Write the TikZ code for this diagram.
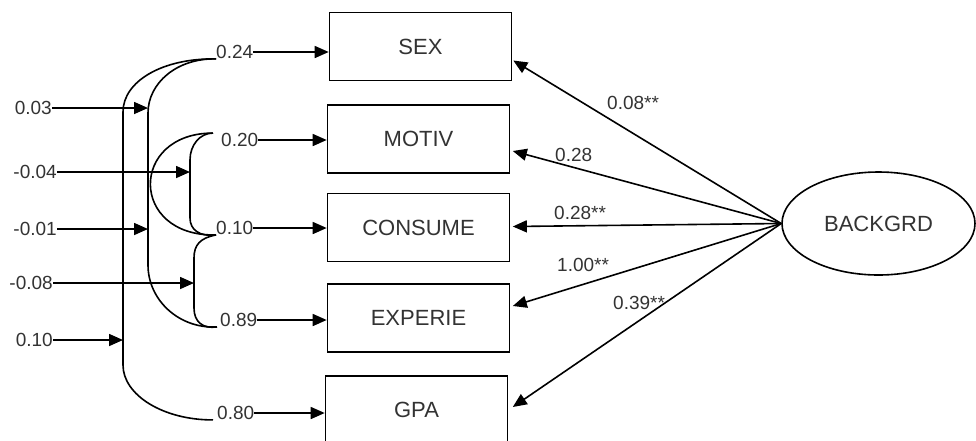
\documentclass[tikz,border=0pt]{standalone}
\usepackage{fontspec}
\setmainfont{Liberation Sans}
\usetikzlibrary{arrows.meta,shapes.geometric}
\begin{document}
\begin{tikzpicture}[x=1pt,y=-1pt,
  var/.style={draw, line width=1.6pt, minimum width=182pt, minimum height=68pt, inner sep=0pt, font=\fontsize{22}{26}\selectfont, text=black!80},
  num/.style={inner sep=0pt, font=\fontsize{19}{22}\selectfont, text=black!80},
  arr/.style={line width=1.6pt, -{Triangle[length=14pt,width=12pt]}},
  cov/.style={line width=1.6pt}]
\useasboundingbox (0,0) rectangle (976,440);
\node[var] (sex) at (420.5,46.5){SEX};
\node[var] (motiv) at (418.5,139){MOTIV};
\node[var] (consume) at (418.5,227.5){CONSUME};
\node[var] (experie) at (418.5,318){EXPERIE};
\node[var] (gpa) at (416.5,410){GPA};
\node[var, ellipse, minimum width=193pt, minimum height=103pt] (backgrd) at (878.5,223.5){BACKGRD};
\node[num, anchor=west] (e24) at (216,52){0.24};
\node[num, anchor=west] (e20) at (221,140){0.20};
\node[num, anchor=west] (e10) at (216,228){0.10};
\node[num, anchor=west] (e89) at (220,320){0.89};
\node[num, anchor=west] (e80) at (217,413){0.80};
\draw[arr](e24.east) -- (e24.east -| sex.west);
\draw[arr](e20.east) -- (e20.east -| motiv.west);
\draw[arr](e10.east) -- (e10.east -| consume.west);
\draw[arr](e89.east) -- (e89.east -| experie.west);
\draw[arr](e80.east) -- (e80.east -| gpa.west);
\draw[cov](e24.south west) .. controls (163,58) and (123,81) .. (123,112) -- (123,365) .. controls (123,395) and (163,420) .. ([xshift=-4pt]e80.south west);
\draw[cov](e24.south west) .. controls (177,58) and (148,83) .. (148,113) -- (148,265) .. controls (148,300) and (179,329) .. ([xshift=-3pt]e89.south west);
\draw[cov]([xshift=-8pt]e20.north west) .. controls (200,133) and (190,145) .. (190,160) -- (190,218) .. controls (190,230) and (200,237) .. (e10.south west);
\draw[cov]([xshift=-8pt]e20.north west) .. controls (129,133) and (129,237) .. (e10.south west);
\draw[cov](e10.south west) .. controls (200,238) and (194,245) .. (194,258) -- (194,308) .. controls (194,322) and (203,329) .. ([xshift=-3pt]e89.south west);
\node[num, anchor=east] (r03) at (52,108){0.03};
\node[num, anchor=east] (r04) at (57,172){-0.04};
\node[num, anchor=east] (r01) at (57,229){-0.01};
\node[num, anchor=east] (r08) at (53,283){-0.08};
\node[num, anchor=east] (r10) at (53,340){0.10};
\coordinate (t03) at (148,108);
\coordinate (t04) at (190,172);
\coordinate (t01) at (148,229);
\coordinate (t08) at (194,283);
\coordinate (t10) at (123,340);
\draw[arr](r03.east) -- (t03);
\draw[arr](r04.east) -- (t04);
\draw[arr](r01.east) -- (t01);
\draw[arr](r08.east) -- (t08);
\draw[arr](r10.east) -- (t10);
\draw[arr](backgrd.west) -- ([xshift=1pt,yshift=-14pt]sex.east);
\draw[arr](backgrd.west) -- ([xshift=2.5pt,yshift=-12pt]motiv.east);
\draw[arr](backgrd.west) -- ([xshift=2.5pt,yshift=1pt]consume.east);
\draw[arr](backgrd.west) -- ([xshift=2.5pt,yshift=12pt]experie.east);
\draw[arr](backgrd.west) -- ([xshift=4.5pt,yshift=3pt]gpa.east);
\node[num, anchor=west] (l08) at (607,103){0.08**};
\node[num, anchor=west] (l28) at (555,155){0.28};
\node[num, anchor=west] (l28s) at (554,213){0.28**};
\node[num, anchor=west] (l100) at (557,265){1.00**};
\node[num, anchor=west] (l39) at (613,303){0.39**};
\end{tikzpicture}
\end{document}
